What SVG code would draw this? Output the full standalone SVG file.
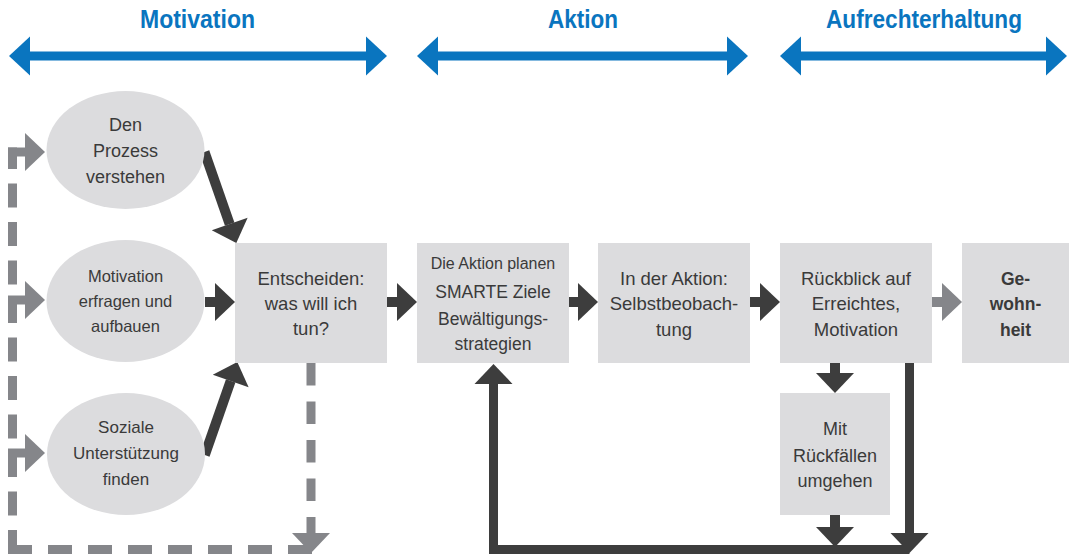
<svg xmlns="http://www.w3.org/2000/svg" width="1069" height="554" viewBox="0 0 1069 554">
<style>
.hd{font-family:"Liberation Sans",Arial,sans-serif;font-weight:bold;font-size:25px;fill:#0a75bf;text-anchor:middle}
.t{font-family:"Liberation Sans",Arial,sans-serif;fill:#3a3a3a;text-anchor:middle}
.nd{fill:#dcdcde}
.blue{fill:#0a75bf}
.dk{stroke:#3d3d3d;stroke-width:10;fill:none}
.dk9{stroke:#3d3d3d;stroke-width:9;fill:none}
.gr{stroke:#85868a;stroke-width:10;fill:none}
.gd{stroke:#85868a;stroke-width:9;fill:none}
</style>
<defs>
<marker id="ahd" markerUnits="userSpaceOnUse" markerWidth="20" markerHeight="38" refX="0" refY="19" orient="auto" overflow="visible"><path d="M0,0 L20,19 L0,38 Z" fill="#3d3d3d"/></marker>
<marker id="ahg" markerUnits="userSpaceOnUse" markerWidth="20" markerHeight="38" refX="0" refY="19" orient="auto" overflow="visible"><path d="M0,0 L20,19 L0,38 Z" fill="#85868a"/></marker>
</defs>

<g id="phases">
<g id="phase-motivation">
<text class="hd" x="197.5" y="28" textLength="115" lengthAdjust="spacingAndGlyphs">Motivation</text>
<rect class="blue" x="28" y="51.5" width="341" height="9"/>
<polygon class="blue" points="9,56 30,36.5 30,75.5"/>
<polygon class="blue" points="387,56 366,36.5 366,75.5"/>
</g>
<g id="phase-aktion">
<text class="hd" x="583" y="28" textLength="70" lengthAdjust="spacingAndGlyphs">Aktion</text>
<rect class="blue" x="436" y="51.5" width="294" height="9"/>
<polygon class="blue" points="417,56 438,36.5 438,75.5"/>
<polygon class="blue" points="748,56 727,36.5 727,75.5"/>
</g>
<g id="phase-aufrechterhaltung">
<text class="hd" x="924" y="27.5" textLength="196" lengthAdjust="spacingAndGlyphs">Aufrechterhaltung</text>
<rect class="blue" x="799" y="51.5" width="250" height="9"/>
<polygon class="blue" points="780,56 801,36.5 801,75.5"/>
<polygon class="blue" points="1067,56 1046,36.5 1046,75.5"/>
</g>
</g>

<g id="connectors">
<!-- dashed feedback -->
<path class="gd" d="M311,363 V533" stroke-dasharray="22.5 16" stroke-width="8" marker-end="url(#ahg)"/>
<path class="gd" d="M312,549.5 H12.5" stroke-dasharray="24 16"/>
<path class="gd" d="M12.5,554 V147.5" stroke-dasharray="24 14.5"/>
<line class="gd" x1="8" y1="152" x2="25" y2="152" marker-end="url(#ahg)"/>
<line class="gd" x1="8" y1="300" x2="25" y2="300" marker-end="url(#ahg)"/>
<line class="gd" x1="8" y1="453" x2="25" y2="453" marker-end="url(#ahg)"/>
<!-- ellipses to decide -->
<line class="dk" x1="204.5" y1="152" x2="229.7" y2="224.1" marker-end="url(#ahd)"/>
<line class="dk" x1="205" y1="302" x2="215" y2="302" marker-end="url(#ahd)"/>
<line class="dk" x1="204.8" y1="455" x2="230.7" y2="380.9" marker-end="url(#ahd)"/>
<!-- main chain -->
<line class="dk" x1="387" y1="302" x2="397" y2="302" marker-end="url(#ahd)"/>
<line class="dk" x1="569" y1="302" x2="578" y2="302" marker-end="url(#ahd)"/>
<line class="dk" x1="750" y1="302" x2="760" y2="302" marker-end="url(#ahd)"/>
<line class="gr" x1="932" y1="302" x2="942" y2="302" marker-end="url(#ahg)"/>
<!-- relapse loop -->
<line class="dk" x1="835" y1="363" x2="835" y2="373" marker-end="url(#ahd)"/>
<line class="dk" x1="835" y1="515" x2="835" y2="527" marker-end="url(#ahd)"/>
<path class="dk9" d="M909.5,549.5 H493.5 V384" marker-end="url(#ahd)"/>
<line class="dk9" x1="909.5" y1="363" x2="909.5" y2="533" marker-end="url(#ahd)"/>
</g>

<g id="node-prozess">
<ellipse class="nd" cx="125.5" cy="150" rx="79" ry="59"/>
<text class="t" font-size="18"><tspan x="125.5" y="131">Den</tspan><tspan x="125.5" y="157">Prozess</tspan><tspan x="125.5" y="183">verstehen</tspan></text>
</g>
<g id="node-motivation">
<ellipse class="nd" cx="125.5" cy="301" rx="79" ry="61"/>
<text class="t" font-size="16.5"><tspan x="125.5" y="282">Motivation</tspan><tspan x="125.5" y="307">erfragen und</tspan><tspan x="125.5" y="332">aufbauen</tspan></text>
</g>
<g id="node-sozial">
<ellipse class="nd" cx="126" cy="454" rx="79" ry="61"/>
<text class="t" font-size="17"><tspan x="126" y="433">Soziale</tspan><tspan x="126" y="459">Unterstützung</tspan><tspan x="126" y="485">finden</tspan></text>
</g>
<g id="node-entscheiden">
<rect class="nd" x="235" y="243" width="152" height="120"/>
<text class="t" font-size="18.5"><tspan x="311" y="285">Entscheiden:</tspan><tspan x="311" y="310">was will ich</tspan><tspan x="311" y="335">tun?</tspan></text>
</g>
<g id="node-planen">
<rect class="nd" x="417" y="243" width="152" height="120"/>
<text class="t" font-size="17.5"><tspan x="493" y="269" font-size="16">Die Aktion planen</tspan><tspan x="493" y="298">SMARTE Ziele</tspan><tspan x="493" y="325">Bewältigungs-</tspan><tspan x="493" y="350">strategien</tspan></text>
</g>
<g id="node-selbstbeobachtung">
<rect class="nd" x="598" y="243" width="152" height="120"/>
<text class="t" font-size="18.5"><tspan x="674" y="285">In der Aktion:</tspan><tspan x="674" y="310">Selbstbeobach-</tspan><tspan x="674" y="336">tung</tspan></text>
</g>
<g id="node-rueckblick">
<rect class="nd" x="780" y="243" width="152" height="120"/>
<text class="t" font-size="18.5"><tspan x="856" y="285">Rückblick auf</tspan><tspan x="856" y="310">Erreichtes,</tspan><tspan x="856" y="336">Motivation</tspan></text>
</g>
<g id="node-gewohnheit">
<rect class="nd" x="962" y="243" width="107" height="120"/>
<text class="t" font-size="17.5" font-weight="bold" fill="#2a2a2a"><tspan x="1015.5" y="285">Ge-</tspan><tspan x="1015.5" y="310">wohn-</tspan><tspan x="1015.5" y="336">heit</tspan></text>
</g>
<g id="node-rueckfaelle">
<rect class="nd" x="780" y="393" width="110" height="122"/>
<text class="t" font-size="18"><tspan x="835" y="435">Mit</tspan><tspan x="835" y="462">Rückfällen</tspan><tspan x="835" y="487">umgehen</tspan></text>
</g>
</svg>
